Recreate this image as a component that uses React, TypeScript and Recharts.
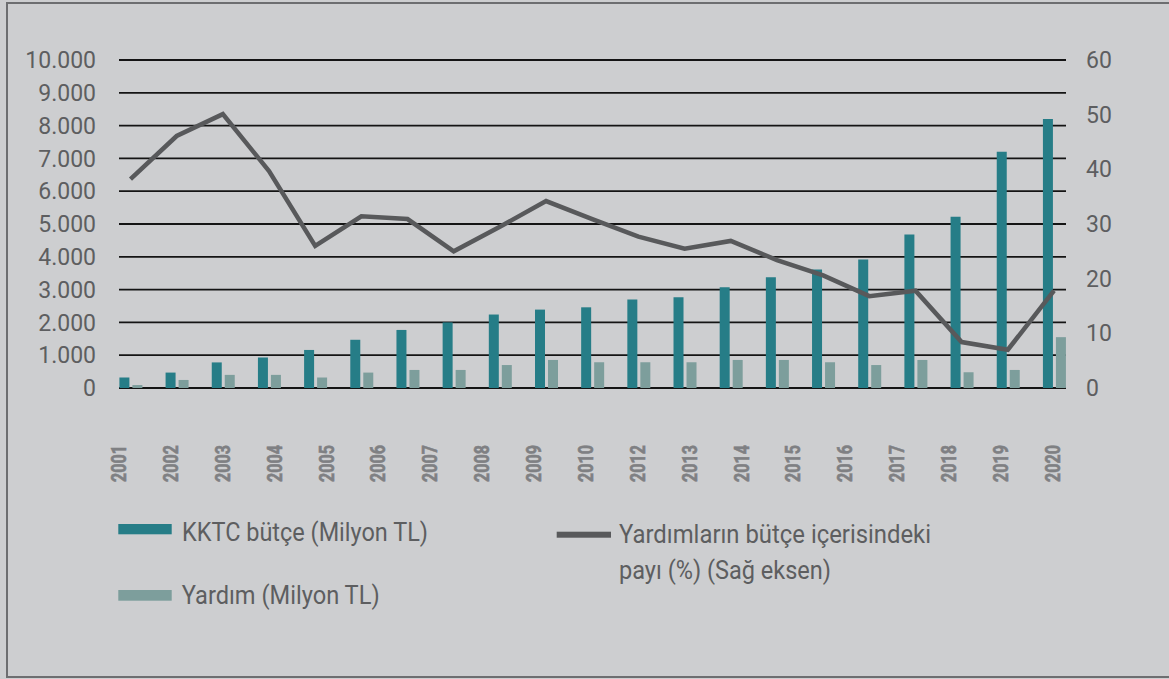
import React from 'react';
import { ComposedChart, Bar, Line, XAxis, YAxis, CartesianGrid } from 'recharts';

// 21 gruplar (grafikte 19 yıl etiketi var, çubuk grubu ise 21)
const groupIds = [
  'g01', 'g02', 'g03', 'g04', 'g05', 'g06', 'g07', 'g08', 'g09', 'g10', 'g11',
  'g12', 'g13', 'g14', 'g15', 'g16', 'g17', 'g18', 'g19', 'g20', 'g21',
];
const budget = [320, 470, 780, 930, 1160, 1470, 1770, 2000, 2240, 2390, 2460, 2700, 2770, 3070, 3380, 3610, 3920, 4680, 5220, 7200, 8200];
const aid = [90, 245, 400, 400, 320, 470, 550, 550, 700, 855, 785, 785, 785, 855, 855, 785, 700, 855, 480, 550, 1550];
const share = [38.2, 46.1, 50.1, 39.7, 26.0, 31.4, 30.9, 25.0, 29.5, 34.2, 30.9, 27.7, 25.5, 26.9, 23.4, 20.6, 16.8, 17.8, 8.4, 7.0, 17.8];

const yearLabels = [
  '2001', '2002', '2003', '2004', '2005', '2006', '2007', '2008', '2009', '2010',
  '2012', '2013', '2014', '2015', '2016', '2017', '2018', '2019', '2020',
];
const leftTicks = [0, 1000, 2000, 3000, 4000, 5000, 6000, 7000, 8000, 9000, 10000];
const rightTicks = [0, 10, 20, 30, 40, 50, 60];

const budgetName = 'KKTC bütçe (Milyon TL)';
const aidName = 'Yardım (Milyon TL)';
const shareName = ['Yardımların bütçe içerisindeki', 'payı (%) (Sağ eksen)'];

const DARK = '#267d87';
const LIGHT = '#7d9e9c';
const LINE = '#58595b';
const TEXT = '#5d5e60';
const YEAR = '#7f8083';

const chartData = groupIds.map((id, i) => ({
  id,
  budget: budget[i],
  aid: aid[i],
  share: share[i],
}));

// yıl etiketleri eşit aralıklarla, çubuk gruplarından bağımsız dağıtılıyor
const labelMax = groupIds.length - 1;
const labelTicks = yearLabels.map((_, i) => (i * labelMax) / (yearLabels.length - 1));

// Türkçe binlik ayırıcı
const fmt = (n: number) => String(n).replace(/\B(?=(\d{3})+(?!\d))/g, '.');

const LeftTick = ({ x, y, payload }: any) => (
  <text x={x} y={y} dy="0.355em" textAnchor="end" fontSize={23} fill={TEXT}>
    {fmt(payload.value)}
  </text>
);

const RightTick = ({ x, y, payload }: any) => (
  <text x={x} y={y} dy="0.355em" textAnchor="start" fontSize={23} fill={TEXT}>
    {payload.value}
  </text>
);

const YearTick = ({ x, y, payload }: any) => {
  const idx = Math.round((payload.value * (yearLabels.length - 1)) / labelMax);
  return (
    <text
      transform={`translate(${x},${y}) rotate(-90)`}
      dy="0.355em"
      textAnchor="end"
      fontSize={20}
      fontWeight={700}
      fill={YEAR}
      stroke={YEAR}
      strokeWidth={0.6}
      textLength={37}
      lengthAdjust="spacingAndGlyphs"
    >
      {yearLabels[idx]}
    </text>
  );
};

function LegendOverlay() {
  return (
    <svg
      width={1169}
      height={679}
      style={{ position: 'absolute', left: 0, top: 0, pointerEvents: 'none', fontFamily: 'Roboto' }}
    >
      <rect x={118.3} y={524} width={53.4} height={10.3} fill={DARK} />
      <text x={182} y={540.7} fontSize={25} fill={TEXT} textLength={246} lengthAdjust="spacingAndGlyphs">
        {budgetName}
      </text>
      <rect x={118.3} y={590} width={53.4} height={10.7} fill={LIGHT} />
      <text x={181.7} y={604} fontSize={25} fill={TEXT} textLength={198} lengthAdjust="spacingAndGlyphs">
        {aidName}
      </text>
      <rect x={556.7} y={531.7} width={54.3} height={6} fill={LINE} />
      <text x={619} y={543.3} fontSize={25} fill={TEXT} textLength={312} lengthAdjust="spacingAndGlyphs">
        {shareName[0]}
      </text>
      <text x={619} y={579.3} fontSize={25} fill={TEXT} textLength={212} lengthAdjust="spacingAndGlyphs">
        {shareName[1]}
      </text>
    </svg>
  );
}

export default function App() {
  return (
    <div
      style={{
        position: 'absolute',
        left: 0,
        top: 0,
        width: 1169,
        height: 679,
        background: '#cdced0',
        overflow: 'hidden',
        fontFamily: 'Roboto',
      }}
    >
      <div
        style={{
          position: 'absolute',
          left: 6,
          top: 2,
          width: 1172,
          height: 676,
          border: '2px solid #6d6e70',
          boxSizing: 'border-box',
        }}
      />
      <div style={{ position: 'absolute', left: 0, top: 0 }}>
        <ComposedChart
          width={1169}
          height={679}
          data={chartData}
          margin={{ top: 60, right: 0, bottom: 0, left: 0 }}
          barGap={3}
        >
          <CartesianGrid
            xAxisId="bars"
            yAxisId="left"
            vertical={false}
            stroke="#141414"
            strokeWidth={1.8}
          />
          <XAxis
            xAxisId="bars"
            dataKey="id"
            hide
            padding={{ left: -11.6, right: -11.1 }}
          />
          <XAxis
            xAxisId="labels"
            type="number"
            domain={[0, labelMax]}
            ticks={labelTicks}
            allowDataOverflow
            padding={{ left: 0, right: 13.3 }}
            height={291}
            axisLine={false}
            tickLine={false}
            tickSize={0}
            tickMargin={27}
            interval={0}
            tick={<YearTick />}
          />
          <YAxis
            yAxisId="left"
            domain={[0, 10000]}
            ticks={leftTicks}
            width={119}
            axisLine={false}
            tickLine={false}
            tickSize={0}
            tickMargin={23}
            interval={0}
            tick={<LeftTick />}
          />
          <YAxis
            yAxisId="right"
            orientation="right"
            domain={[0, 60]}
            ticks={rightTicks}
            width={103}
            axisLine={false}
            tickLine={false}
            tickSize={0}
            tickMargin={20}
            interval={0}
            tick={<RightTick />}
          />
          <Bar xAxisId="bars" yAxisId="left" dataKey="budget" name={budgetName} fill={DARK} barSize={10} isAnimationActive={false} />
          <Bar xAxisId="bars" yAxisId="left" dataKey="aid" name={aidName} fill={LIGHT} barSize={10} isAnimationActive={false} />
          <Line
            xAxisId="bars"
            yAxisId="right"
            type="linear"
            dataKey="share"
            name={shareName.join(' ')}
            stroke={LINE}
            strokeWidth={4.5}
            dot={false}
            isAnimationActive={false}
          />
        </ComposedChart>
      </div>
      <LegendOverlay />
    </div>
  );
}
